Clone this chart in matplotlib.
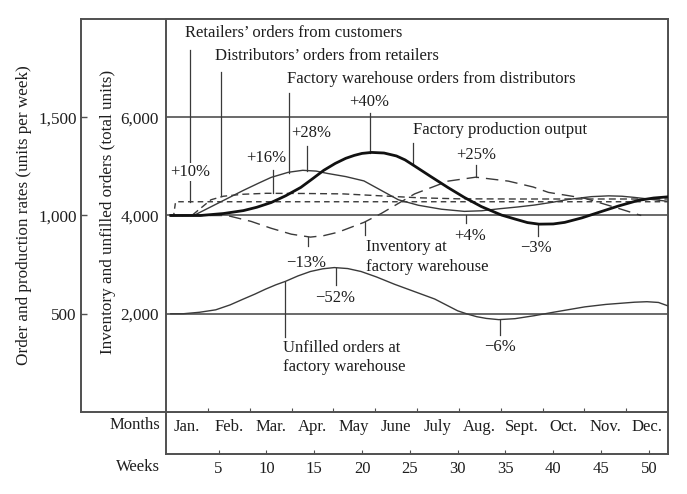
import matplotlib
matplotlib.use("Agg")
import matplotlib.pyplot as plt
from matplotlib.lines import Line2D

plt.rcParams['font.family'] = ['Liberation Serif', 'DejaVu Serif']
plt.rcParams['font.size'] = 12

# ---- data (weeks, units) ----
months = ["Jan.", "Feb.", "Mar.", "Apr.", "May", "June", "July", "Aug.",
          "Sept.", "Oct.", "Nov.", "Dec."]
week_ticks = [5, 10, 15, 20, 25, 30, 35, 40, 45, 50]
rate_ticks = [500, 1000, 1500]
rate_labels = ["500", "1,000", "1,500"]
unit_ticks = [2000, 4000, 6000]
unit_labels = ["2,000", "4,000", "6,000"]

# order and production rates (units per week)
retail_wk = [0, 0.3, 0.5, 52]
retail_val = [1000, 1000, 1070, 1070]

dist_wk = [0, 2.2, 3.2, 4.2, 5.5, 7.5, 10, 14, 18, 22, 26, 30, 36, 44, 52]
dist_val = [1000, 1000, 1040, 1080, 1098, 1108, 1113, 1112, 1110, 1100, 1090, 1085, 1084, 1084, 1084]

fw_wk = [0, 2.4, 5.0, 7.6, 9.2, 10.5, 12.3, 13.8, 15.2, 16.4, 18.3, 20.2, 22.0, 23.8,
         25.9, 28.3, 30.7, 32.5, 34.3, 36.2, 38.0, 40.0, 41.6, 44.0, 45.8, 47.2, 48.5,
         50.3, 52]
fw_val = [1000, 1000, 1064, 1128, 1165, 1194, 1220, 1230, 1226, 1214, 1198, 1176, 1128,
          1080, 1052, 1032, 1021, 1024, 1034, 1043, 1053, 1068, 1082, 1096, 1100, 1098,
          1092, 1082, 1072]

prod_wk = [0, 3.1, 5.5, 7.6, 9.0, 10.5, 12.0, 13.6, 14.8, 16.0, 17.2, 18.3, 19.2, 20.0,
           21.0, 22.3, 23.6, 24.5, 25.4, 27.2, 29.0, 30.7, 32.5, 34.6, 36.0, 37.3, 38.5,
           40.0, 41.2, 43.0, 44.7, 46.8, 48.9, 50.5, 52]
prod_val = [1000, 1000, 1010, 1025, 1042, 1066, 1100, 1143, 1186, 1230, 1265, 1291, 1306,
            1316, 1321, 1318, 1303, 1283, 1255, 1198, 1142, 1092, 1045, 1002, 982, 964,
            956, 957, 965, 988, 1015, 1048, 1077, 1089, 1095]

# inventory and unfilled orders (total units)
inv_wk = [0, 5.9, 8.4, 10.5, 12.6, 14.6, 16.0, 17.5, 20.2, 22.0, 25.5, 29.0, 31.9,
          35.3, 37.9, 39.5, 43.3, 46.4, 49.2]
inv_val = [4000, 4000, 3880, 3740, 3620, 3560, 3590, 3660, 3860, 4040, 4440, 4700, 4780,
           4700, 4580, 4470, 4350, 4170, 4000]

unf_wk = [0, 1.3, 3.0, 4.7, 6.2, 7.6, 8.8, 9.9, 11.0, 12.0, 13.3, 14.6, 15.9, 17.1, 18.5,
          19.9, 21.5, 23.4, 25.5, 27.6, 29.0, 30.0, 31.0, 32.0, 33.0, 34.3, 36.0, 38.0,
          40.0, 43.3, 45.5, 48.5, 49.8, 51.0, 52]
unf_val = [2000, 2000, 2030, 2080, 2180, 2300, 2400, 2500, 2590, 2660, 2770, 2860, 2915,
           2940, 2920, 2860, 2750, 2600, 2450, 2300, 2160, 2060, 1995, 1940, 1905, 1880,
           1900, 1960, 2030, 2140, 2190, 2235, 2245, 2230, 2160]

W, H = 687, 494
fig = plt.figure(figsize=(6.87, 4.94), dpi=100)
box_c = '#505050'
txt_c = '#1e1e1e'
line_c = '#3a3a3a'


def fx(px):
    return px / W


def fy(py):
    return 1 - py / H


# outer box with the rate scale
ax_out = fig.add_axes([fx(81), fy(412), fx(668) - fx(81), fy(19) - fy(412)])
ax_out.set_ylim(0, 2000)
ax_out.set_xticks([])
ax_out.set_yticks(rate_ticks, rate_labels)
ax_out.tick_params(axis='y', direction='in', length=4, width=1, color=box_c,
                   pad=3, labelsize=12.3, labelcolor=txt_c)
for s in ax_out.spines.values():
    s.set_color(box_c)
    s.set_linewidth(1.4)

# inner plot, total units
ax = fig.add_axes([fx(166), fy(412), fx(668) - fx(166), fy(19) - fy(412)])
ax.set_xlim(-0.5, 52)
ax.set_ylim(0, 8000)
ax.set_yticks(unit_ticks, unit_labels)
ax.tick_params(axis='y', length=0, pad=5, labelsize=12.3, labelcolor=txt_c)
for s in ax.spines.values():
    s.set_color(box_c)
    s.set_linewidth(1.4)
for v in unit_ticks:
    ax.axhline(v, color=box_c, lw=1.2, zorder=1)

# months row
step = 52.5 / 12
bounds = [-0.5 + step * i for i in range(1, 12)]
centers = [-0.5 + step * (i + 0.5) for i in range(12)]
ax.set_xticks(bounds, [""] * 11)
ax.set_xticks(centers, months, minor=True)
ax.tick_params(axis='x', which='major', direction='in', length=3, color=box_c)
ax.tick_params(axis='x', which='minor', length=0, pad=5, labelsize=12, labelcolor=txt_c)

# weeks row
sec = ax.secondary_xaxis(-0.107)
sec.set_xticks(week_ticks, [str(w) for w in week_ticks])
sec.tick_params(direction='in', length=3, color=box_c, pad=5, labelsize=12, labelcolor=txt_c)
sec.spines['bottom'].set_color(box_c)
sec.spines['bottom'].set_linewidth(1.4)
for xa in (0, 1):
    ax.add_line(Line2D([xa, xa], [-0.107, 0], transform=ax.transAxes, color=box_c,
                       lw=1.4, clip_on=False))
ax.text(-0.012, -0.033, "Months", transform=ax.transAxes, ha='right', va='center',
        fontsize=12, color=txt_c)
ax.text(-0.012, -0.14, "Weeks", transform=ax.transAxes, ha='right', va='center',
        fontsize=12, color=txt_c)

fig.text(fx(24), fy(215), "Order and production rates (units per week)", rotation=90,
         ha='center', va='center', fontsize=12.3, color=txt_c)
fig.text(fx(108), fy(212), "Inventory and unfilled orders (total units)", rotation=90,
         ha='center', va='center', fontsize=12.3, color=txt_c)

# curves in total units
ax.plot(inv_wk, inv_val, color=line_c, lw=1.0, dashes=(9, 5), zorder=3)
ax.plot(unf_wk, unf_val, color=line_c, lw=1.0, zorder=3)

# curves in rates
axr = ax.twinx()
axr.set_ylim(0, 2000)
axr.set_yticks([])
for s in axr.spines.values():
    s.set_visible(False)
axr.plot(retail_wk, retail_val, color=line_c, lw=1.0, dashes=(4, 3), zorder=3)
axr.plot(dist_wk, dist_val, color=line_c, lw=1.0, dashes=(5, 3), zorder=3)
axr.plot(fw_wk, fw_val, color=line_c, lw=1.0, zorder=3)
axr.plot(prod_wk, prod_val, color='#111111', lw=2.0, zorder=4)


def vline(w, u1, u2):
    axr.plot([w, w], [u1, u2], color=line_c, lw=0.9, zorder=2)


def label(w, u, s, ha='center', bg=False):
    kw = {}
    if bg:
        kw['bbox'] = dict(facecolor='white', edgecolor='none', pad=0.5)
    axr.text(w, u, s, ha=ha, va='center', fontsize=12, color=txt_c, zorder=5, **kw)


# pointer lines
vline(2.0, 1842, 1070)
vline(5.25, 1730, 1098)
vline(12.35, 1623, 1216)
vline(20.8, 1522, 1320)
vline(25.3, 1369, 1257)
vline(14.25, 1354, 1228)
vline(10.7, 1232, 1112)
vline(31.9, 1257, 1195)
vline(20.3, 967, 901)
vline(30.9, 1002, 962)
vline(38.4, 955, 896)
vline(14.35, 890, 845)
vline(17.3, 733, 646)
vline(11.9, 660, 382)
vline(34.4, 470, 392)

label(1.5, 1929, "Retailers\u2019 orders from customers", ha='left')
label(4.6, 1812, "Distributors\u2019 orders from retailers", ha='left')
label(12.15, 1695, "Factory warehouse orders from distributors", ha='left')
label(20.8, 1578, "+40%")
label(25.3, 1435, "Factory production output", ha='left')
label(14.7, 1420, "+28%")
label(10.0, 1293, "+16%")
label(2.0, 1221, "+10%", bg=True)
label(31.9, 1308, "+25%")
label(20.4, 840, "Inventory at", ha='left')
label(20.4, 738, "factory warehouse", ha='left')
label(31.3, 896, "+4%")
label(38.2, 835, "\u22123%")
label(14.2, 758, "\u221213%")
label(17.2, 580, "\u221252%")
label(11.7, 326, "Unfilled orders at", ha='left')
label(11.7, 229, "factory warehouse", ha='left')
label(34.4, 331, "\u22126%")

fig.savefig("out.png", dpi=100)
